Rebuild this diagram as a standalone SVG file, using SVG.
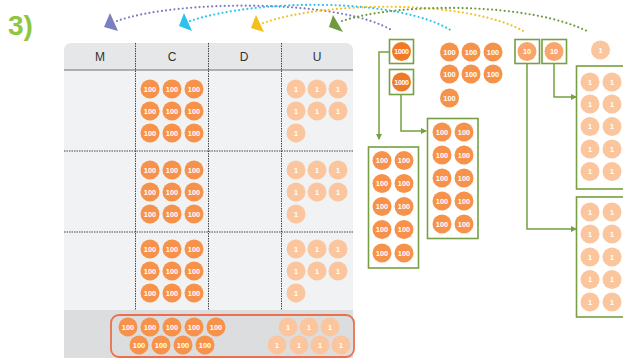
<svg xmlns="http://www.w3.org/2000/svg" width="623" height="358" viewBox="0 0 623 358">
<style>
.c100{fill:#f7924b}
.c1000{fill:#f07a2a}
.c10{fill:#f9a56d}
.c1{fill:#fbc69d}
.t{font-family:"Liberation Sans",Arial,sans-serif;font-weight:bold;fill:#fff;text-anchor:middle;font-size:7.4px}
.t4{font-size:7px;letter-spacing:-0.3px}
.hdr{font-family:"Liberation Sans",Arial,sans-serif;font-size:12px;fill:#333;text-anchor:middle}
.div{stroke:#444;stroke-width:1;stroke-dasharray:1.5 1;fill:none}
.box{fill:#fff;stroke:#76a043;stroke-width:1.6}
.conn{fill:none;stroke:#76a043;stroke-width:1.5}
.arc{fill:none;stroke-width:2.2;stroke-linecap:round;stroke-dasharray:0 4.2}
</style>
<defs>
<marker id="ah" markerWidth="6" markerHeight="6" refX="5" refY="3" orient="auto" markerUnits="userSpaceOnUse">
<path d="M0,0 L6,3 L0,6 Z" fill="#76a043"/>
</marker>
</defs>

<text x="8" y="34.5" font-family="Liberation Sans,Arial,sans-serif" font-weight="bold" font-size="28" fill="#8dc63f">3)</text>

<g id="table">
<path d="M64,358 V51 Q64,43 72,43 H345 Q353,43 353,51 V358 Z" fill="#f1f2f4"/>
<path d="M64,70 V51 Q64,43 72,43 H345 Q353,43 353,51 V70 Z" fill="#e6e7e9"/>
<rect x="64" y="310" width="289" height="48" fill="#dcdddf"/>
<line x1="64" y1="70" x2="353" y2="70" stroke="#9a9a9a" stroke-width="1.5"/>
<line class="div" x1="135.5" y1="43" x2="135.5" y2="310"/>
<line class="div" x1="208.5" y1="43" x2="208.5" y2="310"/>
<line class="div" x1="281.5" y1="43" x2="281.5" y2="310"/>
<line class="div" x1="64" y1="151" x2="353" y2="151"/>
<line class="div" x1="64" y1="232" x2="353" y2="232"/>
<text class="hdr" x="100" y="61">M</text>
<text class="hdr" x="172" y="61">C</text>
<text class="hdr" x="244" y="61">D</text>
<text class="hdr" x="317" y="61">U</text>
</g>

<g id="row1-c">
<circle class="c100" cx="150" cy="89" r="9.5"/><text class="t" x="150" y="91.6">100</text>
<circle class="c100" cx="172" cy="89" r="9.5"/><text class="t" x="172" y="91.6">100</text>
<circle class="c100" cx="194" cy="89" r="9.5"/><text class="t" x="194" y="91.6">100</text>
<circle class="c100" cx="150" cy="111" r="9.5"/><text class="t" x="150" y="113.6">100</text>
<circle class="c100" cx="172" cy="111" r="9.5"/><text class="t" x="172" y="113.6">100</text>
<circle class="c100" cx="194" cy="111" r="9.5"/><text class="t" x="194" y="113.6">100</text>
<circle class="c100" cx="150" cy="133" r="9.5"/><text class="t" x="150" y="135.6">100</text>
<circle class="c100" cx="172" cy="133" r="9.5"/><text class="t" x="172" y="135.6">100</text>
<circle class="c100" cx="194" cy="133" r="9.5"/><text class="t" x="194" y="135.6">100</text>
</g>
<g id="row1-u">
<circle class="c1" cx="296" cy="89" r="9.5"/><text class="t" x="296" y="91.6">1</text>
<circle class="c1" cx="317" cy="89" r="9.5"/><text class="t" x="317" y="91.6">1</text>
<circle class="c1" cx="338" cy="89" r="9.5"/><text class="t" x="338" y="91.6">1</text>
<circle class="c1" cx="296" cy="111" r="9.5"/><text class="t" x="296" y="113.6">1</text>
<circle class="c1" cx="317" cy="111" r="9.5"/><text class="t" x="317" y="113.6">1</text>
<circle class="c1" cx="338" cy="111" r="9.5"/><text class="t" x="338" y="113.6">1</text>
<circle class="c1" cx="296" cy="133" r="9.5"/><text class="t" x="296" y="135.6">1</text>
</g>

<g id="row2-c">
<circle class="c100" cx="150" cy="170" r="9.5"/><text class="t" x="150" y="172.6">100</text>
<circle class="c100" cx="172" cy="170" r="9.5"/><text class="t" x="172" y="172.6">100</text>
<circle class="c100" cx="194" cy="170" r="9.5"/><text class="t" x="194" y="172.6">100</text>
<circle class="c100" cx="150" cy="192" r="9.5"/><text class="t" x="150" y="194.6">100</text>
<circle class="c100" cx="172" cy="192" r="9.5"/><text class="t" x="172" y="194.6">100</text>
<circle class="c100" cx="194" cy="192" r="9.5"/><text class="t" x="194" y="194.6">100</text>
<circle class="c100" cx="150" cy="214" r="9.5"/><text class="t" x="150" y="216.6">100</text>
<circle class="c100" cx="172" cy="214" r="9.5"/><text class="t" x="172" y="216.6">100</text>
<circle class="c100" cx="194" cy="214" r="9.5"/><text class="t" x="194" y="216.6">100</text>
</g>
<g id="row2-u">
<circle class="c1" cx="296" cy="170" r="9.5"/><text class="t" x="296" y="172.6">1</text>
<circle class="c1" cx="317" cy="170" r="9.5"/><text class="t" x="317" y="172.6">1</text>
<circle class="c1" cx="338" cy="170" r="9.5"/><text class="t" x="338" y="172.6">1</text>
<circle class="c1" cx="296" cy="192" r="9.5"/><text class="t" x="296" y="194.6">1</text>
<circle class="c1" cx="317" cy="192" r="9.5"/><text class="t" x="317" y="194.6">1</text>
<circle class="c1" cx="338" cy="192" r="9.5"/><text class="t" x="338" y="194.6">1</text>
<circle class="c1" cx="296" cy="214" r="9.5"/><text class="t" x="296" y="216.6">1</text>
</g>

<g id="row3-c">
<circle class="c100" cx="150" cy="249" r="9.5"/><text class="t" x="150" y="251.6">100</text>
<circle class="c100" cx="172" cy="249" r="9.5"/><text class="t" x="172" y="251.6">100</text>
<circle class="c100" cx="194" cy="249" r="9.5"/><text class="t" x="194" y="251.6">100</text>
<circle class="c100" cx="150" cy="271" r="9.5"/><text class="t" x="150" y="273.6">100</text>
<circle class="c100" cx="172" cy="271" r="9.5"/><text class="t" x="172" y="273.6">100</text>
<circle class="c100" cx="194" cy="271" r="9.5"/><text class="t" x="194" y="273.6">100</text>
<circle class="c100" cx="150" cy="293" r="9.5"/><text class="t" x="150" y="295.6">100</text>
<circle class="c100" cx="172" cy="293" r="9.5"/><text class="t" x="172" y="295.6">100</text>
<circle class="c100" cx="194" cy="293" r="9.5"/><text class="t" x="194" y="295.6">100</text>
</g>
<g id="row3-u">
<circle class="c1" cx="296" cy="249" r="9.5"/><text class="t" x="296" y="251.6">1</text>
<circle class="c1" cx="317" cy="249" r="9.5"/><text class="t" x="317" y="251.6">1</text>
<circle class="c1" cx="338" cy="249" r="9.5"/><text class="t" x="338" y="251.6">1</text>
<circle class="c1" cx="296" cy="271" r="9.5"/><text class="t" x="296" y="273.6">1</text>
<circle class="c1" cx="317" cy="271" r="9.5"/><text class="t" x="317" y="273.6">1</text>
<circle class="c1" cx="338" cy="271" r="9.5"/><text class="t" x="338" y="273.6">1</text>
<circle class="c1" cx="296" cy="293" r="9.5"/><text class="t" x="296" y="295.6">1</text>
</g>

<g id="total">
<rect x="111" y="315" width="243" height="42" rx="8" fill="none" stroke="#eb6f4e" stroke-width="1.8"/>
<circle class="c100" cx="128" cy="327" r="9.5"/><text class="t" x="128" y="329.6">100</text>
<circle class="c100" cx="150" cy="327" r="9.5"/><text class="t" x="150" y="329.6">100</text>
<circle class="c100" cx="172" cy="327" r="9.5"/><text class="t" x="172" y="329.6">100</text>
<circle class="c100" cx="194" cy="327" r="9.5"/><text class="t" x="194" y="329.6">100</text>
<circle class="c100" cx="216" cy="327" r="9.5"/><text class="t" x="216" y="329.6">100</text>
<circle class="c100" cx="139" cy="345" r="9.5"/><text class="t" x="139" y="347.6">100</text>
<circle class="c100" cx="161" cy="345" r="9.5"/><text class="t" x="161" y="347.6">100</text>
<circle class="c100" cx="183" cy="345" r="9.5"/><text class="t" x="183" y="347.6">100</text>
<circle class="c100" cx="205" cy="345" r="9.5"/><text class="t" x="205" y="347.6">100</text>
<circle class="c1" cx="288" cy="327" r="9.5"/><text class="t" x="288" y="329.6">1</text>
<circle class="c1" cx="309" cy="327" r="9.5"/><text class="t" x="309" y="329.6">1</text>
<circle class="c1" cx="330" cy="327" r="9.5"/><text class="t" x="330" y="329.6">1</text>
<circle class="c1" cx="277" cy="345" r="9.5"/><text class="t" x="277" y="347.6">1</text>
<circle class="c1" cx="299" cy="345" r="9.5"/><text class="t" x="299" y="347.6">1</text>
<circle class="c1" cx="320" cy="345" r="9.5"/><text class="t" x="320" y="347.6">1</text>
<circle class="c1" cx="341" cy="345" r="9.5"/><text class="t" x="341" y="347.6">1</text>
</g>

<g id="connectors">
<path class="conn" d="M389,52 H379 V139" marker-end="url(#ah)"/>
<path class="conn" d="M401,94 V131 H426" marker-end="url(#ah)"/>
<path class="conn" d="M554,63 V97 H576" marker-end="url(#ah)"/>
<path class="conn" d="M527,63 V229 H576" marker-end="url(#ah)"/>
<path class="arc" stroke="#7b7fc0" d="M117,21 C175,0 340,-2 393,31"/>
<path class="arc" stroke="#2bc2ee" d="M190,21 C260,-2 400,-2 452,31"/>
<path class="arc" stroke="#f4bf18" d="M263,23 C330,0 470,0 525,32"/>
<path class="arc" stroke="#6f9a3d" d="M342,21 C400,2 530,2 589,32"/>
<polygon points="110,13 104,27 118,31" fill="#7b7fc0"/>
<polygon points="184,13 179,26 192,31" fill="#2bc2ee"/>
<polygon points="256,15 251,28 264,32" fill="#f4bf18"/>
<polygon points="333,15 329,27 343,32" fill="#6f9a3d"/>
</g>

<g id="th1">
<rect class="box" x="389.5" y="39.5" width="24" height="24"/>
<circle class="c1000" cx="401.5" cy="51.5" r="9.5"/><text class="t t4" x="401.5" y="54">1000</text>
</g>
<g id="th2">
<rect class="box" x="389.5" y="69.5" width="24" height="25"/>
<circle class="c1000" cx="401.5" cy="82" r="9.5"/><text class="t t4" x="401.5" y="84.5">1000</text>
</g>

<g id="hundreds">
<circle class="c100" cx="449.5" cy="52" r="9.5"/><text class="t" x="449.5" y="54.6">100</text>
<circle class="c100" cx="471" cy="52" r="9.5"/><text class="t" x="471" y="54.6">100</text>
<circle class="c100" cx="493" cy="52" r="9.5"/><text class="t" x="493" y="54.6">100</text>
<circle class="c100" cx="449.5" cy="74" r="9.5"/><text class="t" x="449.5" y="76.6">100</text>
<circle class="c100" cx="471" cy="74" r="9.5"/><text class="t" x="471" y="76.6">100</text>
<circle class="c100" cx="493" cy="74" r="9.5"/><text class="t" x="493" y="76.6">100</text>
<circle class="c100" cx="449.5" cy="98" r="9.5"/><text class="t" x="449.5" y="100.6">100</text>
</g>

<g id="ten1">
<rect class="box" x="515" y="39.5" width="24.5" height="24"/>
<circle class="c10" cx="527" cy="51.5" r="9.5"/><text class="t" x="527" y="54.1">10</text>
</g>
<g id="ten2">
<rect class="box" x="542" y="39.5" width="24.5" height="24"/>
<circle class="c10" cx="554" cy="51.5" r="9.5"/><text class="t" x="554" y="54.1">10</text>
</g>
<g id="one">
<circle class="c1" cx="600.5" cy="50" r="9.5"/><text class="t" x="600.5" y="52.6">1</text>
</g>

<g id="box100a">
<rect class="box" x="368.5" y="147" width="50" height="121"/>
<circle class="c100" cx="382" cy="160.5" r="9.5"/><text class="t" x="382" y="163.1">100</text>
<circle class="c100" cx="404" cy="160.5" r="9.5"/><text class="t" x="404" y="163.1">100</text>
<circle class="c100" cx="382" cy="183.5" r="9.5"/><text class="t" x="382" y="186.1">100</text>
<circle class="c100" cx="404" cy="183.5" r="9.5"/><text class="t" x="404" y="186.1">100</text>
<circle class="c100" cx="382" cy="206.5" r="9.5"/><text class="t" x="382" y="209.1">100</text>
<circle class="c100" cx="404" cy="206.5" r="9.5"/><text class="t" x="404" y="209.1">100</text>
<circle class="c100" cx="382" cy="229.5" r="9.5"/><text class="t" x="382" y="232.1">100</text>
<circle class="c100" cx="404" cy="229.5" r="9.5"/><text class="t" x="404" y="232.1">100</text>
<circle class="c100" cx="382" cy="253" r="9.5"/><text class="t" x="382" y="255.6">100</text>
<circle class="c100" cx="404" cy="253" r="9.5"/><text class="t" x="404" y="255.6">100</text>
</g>

<g id="box100b">
<rect class="box" x="427.5" y="118.5" width="50.5" height="120"/>
<circle class="c100" cx="442" cy="132" r="9.5"/><text class="t" x="442" y="134.6">100</text>
<circle class="c100" cx="464" cy="132" r="9.5"/><text class="t" x="464" y="134.6">100</text>
<circle class="c100" cx="442" cy="155" r="9.5"/><text class="t" x="442" y="157.6">100</text>
<circle class="c100" cx="464" cy="155" r="9.5"/><text class="t" x="464" y="157.6">100</text>
<circle class="c100" cx="442" cy="178" r="9.5"/><text class="t" x="442" y="180.6">100</text>
<circle class="c100" cx="464" cy="178" r="9.5"/><text class="t" x="464" y="180.6">100</text>
<circle class="c100" cx="442" cy="201" r="9.5"/><text class="t" x="442" y="203.6">100</text>
<circle class="c100" cx="464" cy="201" r="9.5"/><text class="t" x="464" y="203.6">100</text>
<circle class="c100" cx="442" cy="224" r="9.5"/><text class="t" x="442" y="226.6">100</text>
<circle class="c100" cx="464" cy="224" r="9.5"/><text class="t" x="464" y="226.6">100</text>
</g>

<g id="box1a">
<rect class="box" x="576.5" y="66" width="60" height="123"/>
<circle class="c1" cx="590" cy="82" r="9.5"/><text class="t" x="590" y="84.6">1</text>
<circle class="c1" cx="612" cy="82" r="9.5"/><text class="t" x="612" y="84.6">1</text>
<circle class="c1" cx="590" cy="104" r="9.5"/><text class="t" x="590" y="106.6">1</text>
<circle class="c1" cx="612" cy="104" r="9.5"/><text class="t" x="612" y="106.6">1</text>
<circle class="c1" cx="590" cy="126.5" r="9.5"/><text class="t" x="590" y="129.1">1</text>
<circle class="c1" cx="612" cy="126.5" r="9.5"/><text class="t" x="612" y="129.1">1</text>
<circle class="c1" cx="590" cy="149" r="9.5"/><text class="t" x="590" y="151.6">1</text>
<circle class="c1" cx="612" cy="149" r="9.5"/><text class="t" x="612" y="151.6">1</text>
<circle class="c1" cx="590" cy="171.5" r="9.5"/><text class="t" x="590" y="174.1">1</text>
<circle class="c1" cx="612" cy="171.5" r="9.5"/><text class="t" x="612" y="174.1">1</text>
</g>

<g id="box1b">
<rect class="box" x="576.5" y="197" width="60" height="120"/>
<circle class="c1" cx="590" cy="212" r="9.5"/><text class="t" x="590" y="214.6">1</text>
<circle class="c1" cx="612" cy="212" r="9.5"/><text class="t" x="612" y="214.6">1</text>
<circle class="c1" cx="590" cy="234" r="9.5"/><text class="t" x="590" y="236.6">1</text>
<circle class="c1" cx="612" cy="234" r="9.5"/><text class="t" x="612" y="236.6">1</text>
<circle class="c1" cx="590" cy="257" r="9.5"/><text class="t" x="590" y="259.6">1</text>
<circle class="c1" cx="612" cy="257" r="9.5"/><text class="t" x="612" y="259.6">1</text>
<circle class="c1" cx="590" cy="279.5" r="9.5"/><text class="t" x="590" y="282.1">1</text>
<circle class="c1" cx="612" cy="279.5" r="9.5"/><text class="t" x="612" y="282.1">1</text>
<circle class="c1" cx="590" cy="302" r="9.5"/><text class="t" x="590" y="304.6">1</text>
<circle class="c1" cx="612" cy="302" r="9.5"/><text class="t" x="612" y="304.6">1</text>
</g>
</svg>
